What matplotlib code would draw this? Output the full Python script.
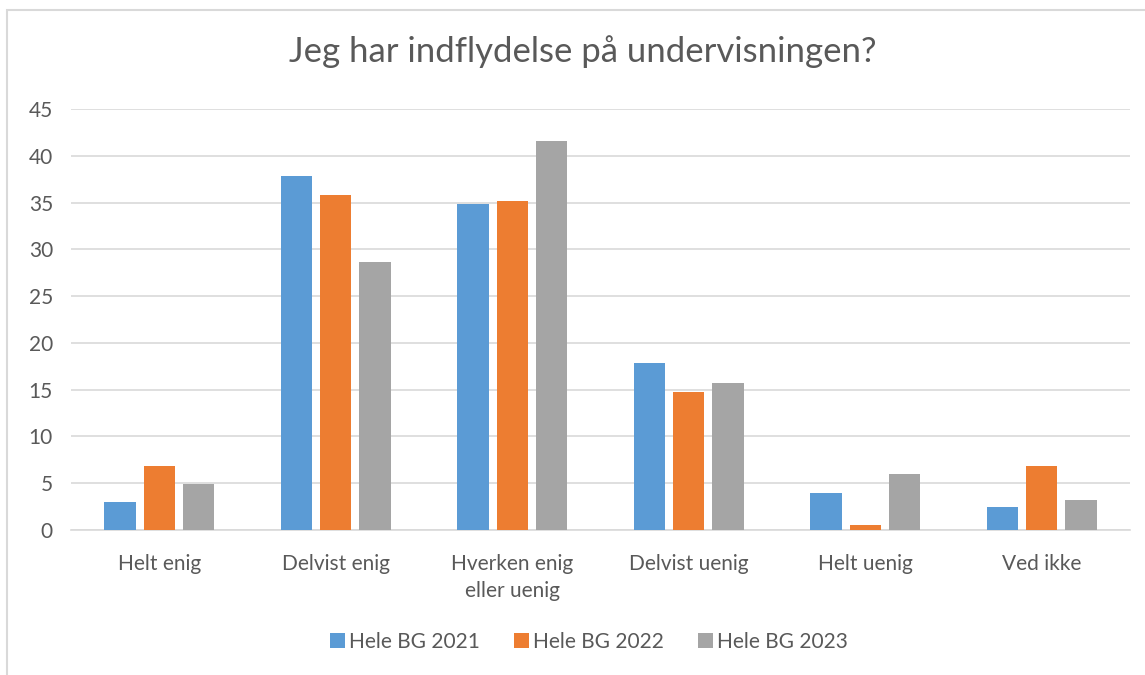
import matplotlib
matplotlib.use("Agg")
import matplotlib.pyplot as plt
import numpy as np
from matplotlib.patches import Rectangle

categories = ["Helt enig", "Delvist enig", "Hverken enig\neller uenig", "Delvist uenig", "Helt uenig", "Ved ikke"]
series_names = ["Hele BG 2021", "Hele BG 2022", "Hele BG 2023"]
bg2021 = [3.0, 37.8, 34.8, 17.9, 3.95, 2.45]
bg2022 = [6.85, 35.8, 35.2, 14.8, 0.55, 6.85]
bg2023 = [4.9, 28.6, 41.6, 15.7, 5.95, 3.25]
yticks = [0, 5, 10, 15, 20, 25, 30, 35, 40, 45]
title = "Jeg har indflydelse på undervisningen?"

colors = ["#5B9BD5", "#ED7D31", "#A5A5A5"]
txt = "#595959"
plt.rcParams['font.family'] = ['Lato', 'DejaVu Sans']

fig = plt.figure(figsize=(11.45, 6.75), dpi=100)
ax = fig.add_axes([71/1145, 1-530/675, (1130-71)/1145, (530-109)/675])

x = np.arange(len(categories))
pitch = 0.222
w = 0.178
for i, (vals, name) in enumerate(zip([bg2021, bg2022, bg2023], series_names)):
    ax.bar(x + (i-1)*pitch, vals, width=w, color=colors[i], label=name, zorder=3)

ax.set_xlim(-0.5, len(categories)-0.5)
ax.set_ylim(0, 45)
ax.set_yticks(yticks)
ax.set_xticks(x)
ax.set_xticklabels(categories, fontsize=15, color=txt, linespacing=1.45)
ax.tick_params(axis='y', labelsize=15, labelcolor=txt, length=0, pad=13)
ax.tick_params(axis='x', length=0, pad=17)
ax.grid(axis='y', color='#D9D9D9', linewidth=1.2, zorder=0)
for s in ['top', 'right', 'left']:
    ax.spines[s].set_visible(False)
ax.spines['bottom'].set_color('#D9D9D9')
ax.spines['bottom'].set_linewidth(1.2)

fig.text(583/1145, 1-52/675, title, ha='center', va='center', fontsize=25, color=txt)

leg = fig.legend(loc='center', bbox_to_anchor=(589/1145, 1-642/675), ncol=3, frameon=False,
                 fontsize=15, handlelength=0.75, handleheight=0.75, handletextpad=0.2, columnspacing=1.6)
for t in leg.get_texts():
    t.set_color(txt)

fig.patches.append(Rectangle((7/1145, -0.1), 1.2, 1.1 - 10/675, transform=fig.transFigure,
                             fill=False, edgecolor='#D9D9D9', linewidth=1.5))

fig.savefig("out.png", dpi=100)
